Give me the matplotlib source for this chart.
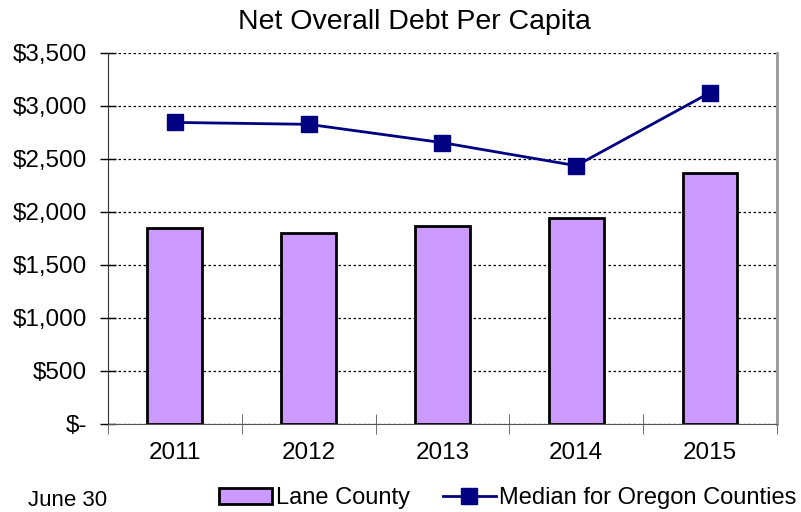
import matplotlib.pyplot as plt
import numpy as np
from matplotlib.ticker import FuncFormatter, FixedLocator

plt.rcParams['font.family'] = ['Liberation Sans', 'DejaVu Sans']

years = ['2011', '2012', '2013', '2014', '2015']
lane_county = [1846, 1805, 1871, 1940, 2365]
oregon_median = [2845, 2827, 2654, 2437, 3126]


def dollars(v, pos):
    # Excel style accounting format, zero shown as "$-"
    if v == 0:
        return '$-'
    return '${:,.0f}'.format(v)


fig = plt.figure(figsize=(8.01, 5.12), dpi=100)
ax = fig.add_axes([0.1348, 0.1719, 0.8352, 0.7246])

x = np.arange(len(years))
bars = ax.bar(x, lane_county, width=0.41, color='#CC99FF', edgecolor='black',
              linewidth=2, label='Lane County', zorder=3)
line, = ax.plot(x, oregon_median, color='#000080', linewidth=2, marker='s',
                markersize=11, label='Median for Oregon Counties', zorder=4)

ax.set_xlim(-0.5, len(years) - 0.5)
ax.set_ylim(0, 3500)
ax.set_yticks(np.arange(0, 3501, 500))
ax.yaxis.set_major_formatter(FuncFormatter(dollars))
ax.yaxis.grid(True, linestyle=(0, (2, 2)), color='black', linewidth=0.9, zorder=0)

ax.set_xticks(x)
ax.set_xticklabels(years)
ax.xaxis.set_minor_locator(FixedLocator(np.arange(-0.5, len(years), 1.0)))
ax.tick_params(axis='x', which='major', length=0, pad=13, labelsize=17.5)
ax.tick_params(axis='x', which='minor', direction='inout', length=14, color='#555555')
ax.tick_params(axis='y', direction='inout', length=12, width=1, labelsize=17.5, pad=9)

ax.spines['top'].set_visible(False)
ax.spines['right'].set_color('#999999')
ax.spines['right'].set_linewidth(2)
ax.spines['left'].set_color('#333333')
ax.spines['bottom'].set_color('#555555')

fig.text(0.518, 0.958, 'Net Overall Debt Per Capita', ha='center', va='center', fontsize=20.5)
fig.text(0.035, 0.022, 'June 30', ha='left', va='center', fontsize=16)

fig.legend(handles=[bars, line], loc='center', bbox_to_anchor=(0.634, 0.027), ncol=2,
           frameon=False, fontsize=17, handlelength=2.25, handletextpad=0.15,
           columnspacing=1.4, borderaxespad=0)

fig.savefig('out.png', dpi=100)
